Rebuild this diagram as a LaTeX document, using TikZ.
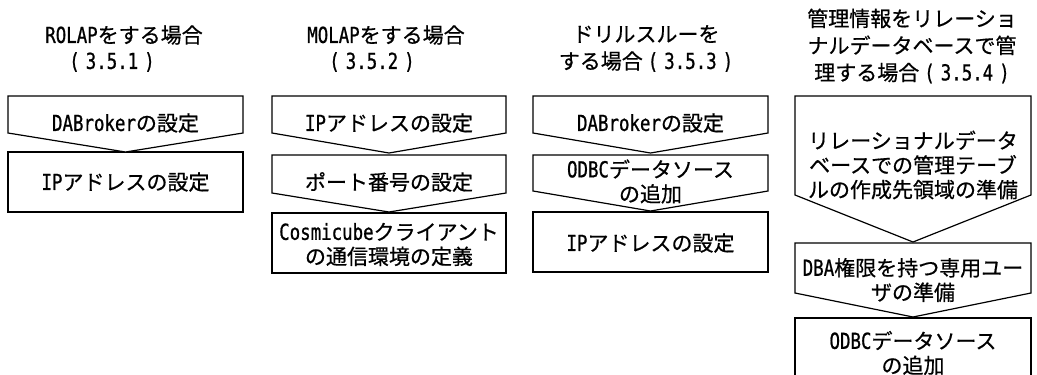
\documentclass[tikz,border=0pt]{standalone}
\usepackage{fontspec}
\setmainfont[FakeBold=0.6]{Noto Sans CJK JP}
\newfontfamily\latf[FakeStretch=0.79,Scale=1.05,FakeBold=0.8]{DejaVu Sans Mono}
\newcommand{\lat}[1]{{\latf #1}}
\newcommand{\pgrp}[1]{\lat{(}\hspace{6pt}\lat{#1}\hspace{6pt}\lat{)}}
\begin{document}
\begin{tikzpicture}[x=1pt,y=-1pt,
  flow/.style={draw=black,line width=1.2pt,line join=miter,fill=white},
  lbl/.style={font=\fontsize{21pt}{24.5pt}\selectfont,align=center,inner sep=0pt},
  ttl/.style={font=\fontsize{21pt}{27pt}\selectfont,align=center,inner sep=0pt}]
\useasboundingbox (0,0) rectangle (1037,375);

% titles
\node[ttl] (t1a) at (124,35) {\lat{ROLAP}をする場合};
\node[ttl] (t1b) at (112,62) {\pgrp{3.5.1}};
\node[ttl] (t2a) at (386,35) {\lat{MOLAP}をする場合};
\node[ttl] (t2b) at (372,62) {\pgrp{3.5.2}};
\node[ttl] (t3) at (646,48.5) {ドリルスルーを\\する場合\hspace{5pt}\pgrp{3.5.3}};
\node[ttl] (t4) at (912,46) {管理情報をリレーショ\\ナルデータベースで管\\理する場合\hspace{5pt}\pgrp{3.5.4}};

% column 1
\draw[flow] (8,152) rectangle (243,212);
\draw[flow] (8,96) -- (243,96) -- (243,133) -- (125.5,152) -- (8,133) -- cycle;
\node[lbl] (a1) at (125.5,123) {\lat{DABroker}の設定};
\node[lbl] (a2) at (125.5,182) {\lat{IP}アドレスの設定};

% column 2
\draw[flow] (272,213) rectangle (506,273);
\draw[flow] (272,155) -- (506,155) -- (506,193) -- (389,212) -- (272,193) -- cycle;
\draw[flow] (272,96) -- (506,96) -- (506,133) -- (389,153) -- (272,133) -- cycle;
\node[lbl] (b1) at (389,123) {\lat{IP}アドレスの設定};
\node[lbl] (b2) at (389,182) {ポート番号の設定};
\node[lbl] (b3) at (389,244.5) {\lat{Cosmicube}クライアント\\の通信環境の定義};

% column 3
\draw[flow] (533,212) rectangle (768,272);
\draw[flow] (533,155) -- (768,155) -- (768,191) -- (650.5,211) -- (533,191) -- cycle;
\draw[flow] (533,96) -- (768,96) -- (768,133) -- (650.5,153) -- (533,133) -- cycle;
\node[lbl] (c1) at (650.5,123) {\lat{DABroker}の設定};
\node[lbl] (c2) at (650.5,181.5) {\lat{ODBC}データソース\\の追加};
\node[lbl] (c3) at (650.5,243) {\lat{IP}アドレスの設定};

% column 4 (last box runs past the lower edge of the picture)
\draw[flow] (795,318) rectangle (1031,390);
\draw[flow] (795,243) -- (1031,243) -- (1031,293) -- (913,317) -- (795,293) -- cycle;
\draw[flow] (795,96) -- (1031,96) -- (1031,195) -- (913,242) -- (795,195) -- cycle;
\node[lbl] (d1) at (913,165) {リレーショナルデータ\\ベースでの管理テーブ\\ルの作成先領域の準備};
\node[lbl] (d2) at (913,280) {\lat{DBA}権限を持つ専用ユー\\ザの準備};
\node[lbl] (d3) at (913,353) {\lat{ODBC}データソース\\の追加};
\end{tikzpicture}
\end{document}
